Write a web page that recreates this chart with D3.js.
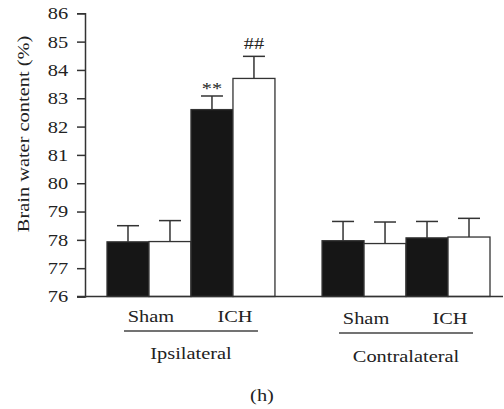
<!DOCTYPE html>
<html>
<head>
<meta charset="utf-8">
<script src="https://cdn.jsdelivr.net/npm/d3@7"></script>
<style>
  body { margin: 0; background: #fff; }
  text { font-family: "Liberation Serif", "Times New Roman", serif; fill: #222; }
</style>
</head>
<body>
<script>
// Data
const regions = ["Ipsilateral", "Contralateral"];
const conditions = ["Sham", "ICH"];
const seriesNames = ["black", "white"];

// mean values, [region][condition]
const blackMeans = [[77.93, 82.6], [77.97, 78.07]];
const whiteMeans = [[77.94, 83.7], [77.87, 78.1]];
// upper error (SD) sizes
const blackErr = [[0.57, 0.48], [0.68, 0.58]];
const whiteErr = [[0.74, 0.78], [0.76, 0.66]];
// significance marks [region][condition]
const blackMarks = [["", "**"], ["", ""]];
const whiteMarks = [["", "##"], ["", ""]];

const yTicks = [76, 77, 78, 79, 80, 81, 82, 83, 84, 85, 86];

const width = 504, height = 409;
const SX = 1.2; // the source font runs wide

// flatten into bar records
let bars = [];
regions.forEach((r, ri) => {
    conditions.forEach((c, ci) => {
        bars.push({region: r, key: c + "-black", cond: c, fill: "#161616",
                   v: blackMeans[ri][ci], e: blackErr[ri][ci], mark: blackMarks[ri][ci]});
        bars.push({region: r, key: c + "-white", cond: c, fill: "#ffffff",
                   v: whiteMeans[ri][ci], e: whiteErr[ri][ci], mark: whiteMarks[ri][ci]});
    });
});
const innerKeys = ["Sham-black", "Sham-white", "ICH-black", "ICH-white"];

let svg = d3.select("body").append("svg")
    .attr("width", width)
    .attr("height", height);

let xGroup = d3.scaleBand()
    .domain(regions)
    .range([107, 490])
    .paddingInner(0.219)
    .paddingOuter(0);

let xInner = d3.scaleBand()
    .domain(innerKeys)
    .range([0, xGroup.bandwidth()])
    .padding(0);

let yScale = d3.scaleLinear()
    .domain([76, 86])
    .range([296.5, 13.3]);

const axisX = 85;
const baseY = yScale(76);

// helper: text stretched horizontally around its anchor point
function label(x, y, txt, size, rotate) {
    return svg.append("text")
        .attr("transform", "translate(" + x + "," + y + ")" +
              (rotate ? " rotate(" + rotate + ")" : "") + " scale(" + SX + ",1)")
        .attr("text-anchor", "middle")
        .style("font-size", size + "px")
        .text(txt);
}

// bars
let barG = svg.append("g");
bars.forEach(d => {
    let x0 = xGroup(d.region) + xInner(d.key);
    let bw = xInner.bandwidth();
    let cx = x0 + bw / 2;
    // error bar (upward only)
    barG.append("line")
        .attr("x1", cx).attr("x2", cx)
        .attr("y1", yScale(d.v)).attr("y2", yScale(d.v + d.e))
        .attr("stroke", "#333").attr("stroke-width", 1.5);
    barG.append("line")
        .attr("x1", cx - 11).attr("x2", cx + 11)
        .attr("y1", yScale(d.v + d.e)).attr("y2", yScale(d.v + d.e))
        .attr("stroke", "#333").attr("stroke-width", 1.5);
    barG.append("rect")
        .attr("x", x0)
        .attr("y", yScale(d.v))
        .attr("width", bw)
        .attr("height", baseY - yScale(d.v))
        .attr("fill", d.fill)
        .attr("stroke", "#333")
        .attr("stroke-width", 1.3);
    if (d.mark) {
        let my = d.mark === "**" ? yScale(d.v + d.e) - 2 : yScale(d.v + d.e) - 7;
        label(cx, my, d.mark, 17);
    }
});

// y axis
let yAxis = d3.axisLeft(yScale)
    .tickValues(yTicks)
    .tickSize(8)
    .tickPadding(6)
    .tickFormat(d3.format("d"));

let yG = svg.append("g")
    .attr("transform", "translate(" + axisX + ",0)")
    .call(yAxis);
yG.select(".domain").attr("stroke", "#333").attr("stroke-width", 1.5);
yG.selectAll(".tick line").attr("stroke", "#333").attr("stroke-width", 1.5);
yG.selectAll(".tick text")
    .attr("transform", "scale(" + SX + ",1)")
    .style("font-size", "17px")
    .style("font-family", "Liberation Serif, serif")
    .attr("fill", "#222");

// baseline across the plot
svg.append("line")
    .attr("x1", axisX - 8).attr("x2", 503)
    .attr("y1", baseY).attr("y2", baseY)
    .attr("stroke", "#333").attr("stroke-width", 1.5);

// y label
label(29, 134, "Brain water content (%)", 17, -90);

// condition labels, brackets and region labels
regions.forEach(r => {
    let g0 = xGroup(r);
    conditions.forEach(c => {
        let cx = g0 + xInner(c + "-white") + 2;
        label(cx, r === "Ipsilateral" ? 322 : 324, c, 17);
    });
    let mid = g0 + xGroup.bandwidth() / 2;
    svg.append("line")
        .attr("x1", mid - 67).attr("x2", mid + 67)
        .attr("y1", r === "Ipsilateral" ? 331 : 333)
        .attr("y2", r === "Ipsilateral" ? 331 : 333)
        .attr("stroke", "#444").attr("stroke-width", 1.5);
    label(mid, r === "Ipsilateral" ? 359 : 362, r, 17);
});

label(262, 401, "(h)", 17);
</script>
</body>
</html>
